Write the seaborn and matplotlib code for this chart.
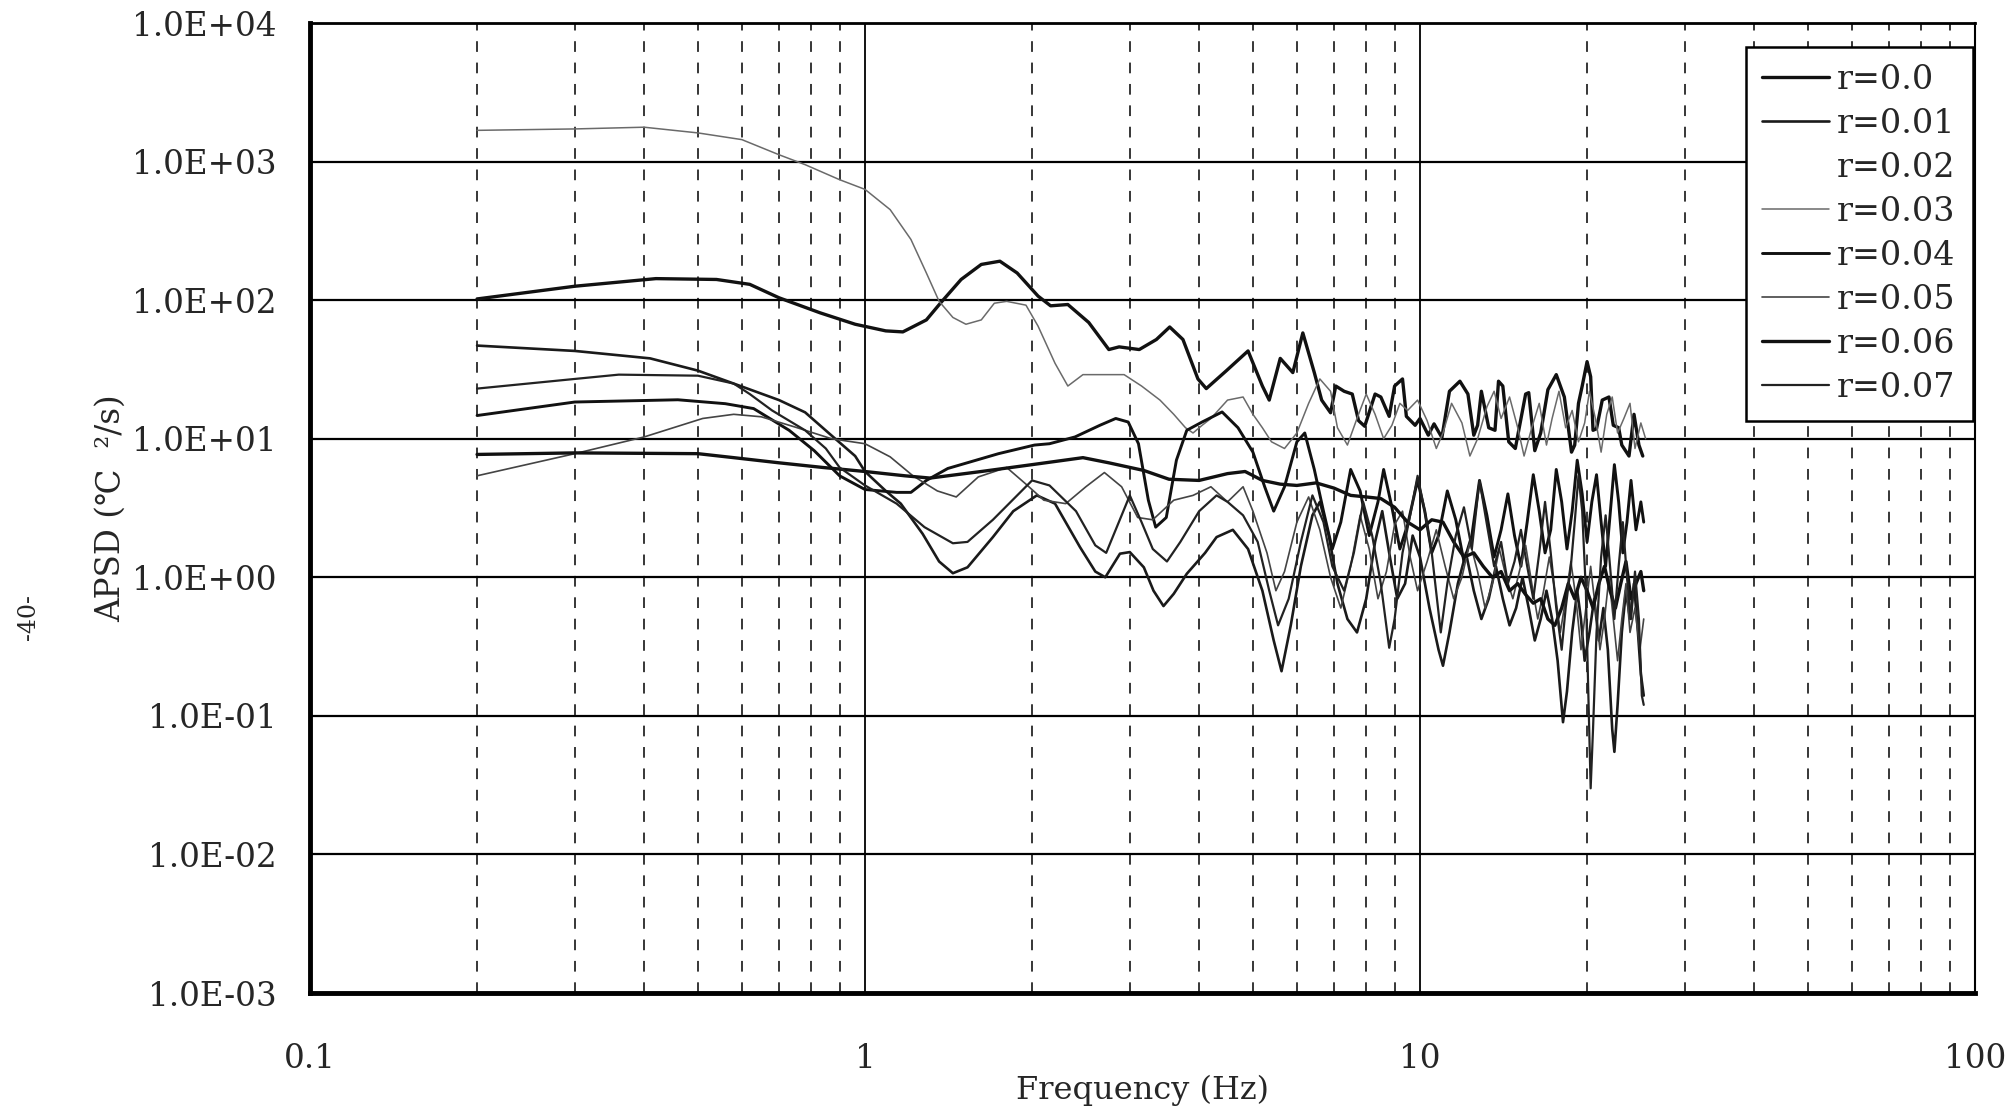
import numpy as np
import pandas as pd
import matplotlib
matplotlib.use("Agg")
import matplotlib.pyplot as plt
import seaborn as sns
from matplotlib.ticker import LogLocator, NullLocator, FixedLocator, FuncFormatter
from matplotlib.lines import Line2D

# ------------------------------------------
# DATA (frequency Hz, APSD)
# ------------------------------------------
r000 = [(0.2, 102), (0.3, 126), (0.42, 143), (0.54, 141), (0.62, 130), (0.7, 104), (0.83, 81), (0.96, 67),
        (1.09, 60), (1.17, 59), (1.29, 72), (1.37, 96), (1.49, 141), (1.62, 181), (1.75, 191), (1.88, 157),
        (2.05, 107), (2.16, 91), (2.32, 93), (2.53, 69), (2.75, 44), (2.87, 46), (3.12, 44), (3.35, 52),
        (3.54, 64), (3.74, 52), (3.98, 27), (4.12, 23), (4.48, 31), (4.9, 43), (5.2, 24), (5.35, 19),
        (5.6, 38), (5.9, 30), (6.15, 58), (6.45, 30), (6.65, 19), (6.9, 15.4), (7.05, 24), (7.3, 22),
        (7.55, 21), (7.75, 13.5), (7.95, 12.3), (8.3, 21), (8.5, 20), (8.8, 14.5), (9.0, 24), (9.3, 27),
        (9.45, 14.5), (9.8, 12.5), (10.0, 14), (10.35, 10.6), (10.6, 12.8), (10.95, 10.2), (11.3, 22),
        (11.8, 26), (12.2, 21), (12.5, 10.6), (12.7, 12.5), (12.9, 22), (13.3, 12), (13.65, 11.5),
        (13.85, 26), (14.1, 24), (14.45, 9.5), (14.85, 8.5), (15.5, 21), (15.7, 21.5), (16.1, 8.2),
        (16.5, 11), (17.0, 22.6), (17.6, 29), (18.2, 20), (18.75, 8), (19.0, 9), (19.3, 18), (19.6, 24),
        (20.0, 36), (20.3, 28), (20.5, 11.5), (20.8, 11.8), (21.3, 19), (21.9, 20), (22.3, 12.5),
        (22.8, 12), (23.1, 9), (23.8, 7.5), (24.3, 15), (24.8, 9), (25.2, 7.5)]

r001 = [(0.2, 47), (0.3, 43), (0.41, 38), (0.5, 31), (0.58, 25), (0.7, 19), (0.78, 15.5), (0.86, 11),
        (0.96, 7.5), (1.0, 5.8), (1.09, 4.2), (1.16, 3.4), (1.27, 2.06), (1.36, 1.3), (1.44, 1.07),
        (1.53, 1.18), (1.7, 1.95), (1.85, 3.0), (2.04, 3.9), (2.2, 3.4), (2.44, 1.65), (2.6, 1.1),
        (2.71, 1.0), (2.88, 1.48), (3.0, 1.52), (3.18, 1.18), (3.31, 0.8), (3.45, 0.62), (3.6, 0.76),
        (3.8, 1.06), (4.1, 1.5), (4.3, 1.95), (4.6, 2.2), (4.9, 1.6), (5.2, 0.8), (5.45, 0.35),
        (5.63, 0.21), (5.85, 0.45), (6.1, 1.2), (6.4, 2.8), (6.6, 3.5), (6.85, 2.0), (7.1, 0.9),
        (7.4, 0.5), (7.7, 0.4), (8.0, 0.7), (8.3, 1.8), (8.55, 3.0), (8.8, 1.5), (9.1, 0.7), (9.4, 0.9),
        (9.7, 2.0), (10.0, 1.4), (10.4, 0.6), (10.8, 0.3), (11.0, 0.23), (11.3, 0.4), (11.7, 0.9),
        (12.1, 1.5), (12.5, 0.8), (12.9, 0.5), (13.3, 0.7), (13.7, 1.2), (14.1, 0.7), (14.5, 0.45),
        (14.9, 0.6), (15.3, 1.0), (15.7, 0.6), (16.1, 0.35), (16.5, 0.5), (16.9, 0.8), (17.3, 0.5),
        (17.7, 0.25), (18.1, 0.09), (18.4, 0.15), (18.8, 0.4), (19.2, 0.8), (19.5, 0.5), (19.8, 0.25),
        (20.2, 0.4), (20.6, 0.7), (21.0, 0.35), (21.4, 0.6), (21.8, 0.3), (22.2, 0.08), (22.4, 0.055),
        (22.7, 0.12), (23.1, 0.4), (23.5, 0.8), (23.9, 0.5), (24.3, 0.9), (24.7, 0.4), (25.0, 0.2),
        (25.3, 0.14)]

r003 = [(0.2, 1680), (0.3, 1720), (0.4, 1770), (0.5, 1610), (0.6, 1440), (0.7, 1120), (0.78, 950),
        (0.9, 740), (1.0, 630), (1.11, 450), (1.21, 274), (1.29, 157), (1.36, 98), (1.44, 75), (1.52, 67),
        (1.62, 72), (1.71, 95), (1.8, 98), (1.95, 92), (2.05, 65), (2.2, 35), (2.32, 24), (2.47, 29),
        (2.7, 29), (2.93, 29), (3.15, 24), (3.4, 19), (3.6, 15), (3.78, 12), (3.9, 11), (4.05, 12.5),
        (4.2, 14), (4.5, 19), (4.8, 20), (5.0, 15), (5.2, 12), (5.4, 9.5), (5.7, 8.5), (6.0, 11),
        (6.3, 18), (6.6, 27), (6.9, 22), (7.1, 12), (7.4, 9), (7.7, 14), (8.0, 21), (8.3, 15), (8.6, 10),
        (8.9, 12.5), (9.2, 18), (9.5, 16), (9.9, 19), (10.3, 13.5), (10.7, 8.5), (11.0, 11), (11.4, 18),
        (11.9, 13), (12.3, 7.5), (12.7, 10), (13.2, 17), (13.6, 22), (14.0, 14), (14.5, 20), (15.0, 12),
        (15.4, 7.5), (15.9, 12), (16.4, 18), (16.9, 9), (17.3, 14), (17.8, 22), (18.3, 12), (18.8, 16),
        (19.3, 9.5), (19.8, 13), (20.2, 22), (20.7, 14), (21.2, 8), (21.7, 15), (22.2, 20), (22.7, 11),
        (23.3, 14), (23.9, 18), (24.4, 8.5), (25.0, 13), (25.5, 10)]

r004 = [(0.2, 14.7), (0.3, 18.4), (0.46, 19.1), (0.56, 17.9), (0.63, 16.5), (0.73, 11.5), (0.81, 8.2),
        (0.9, 5.4), (1.0, 4.3), (1.14, 4.1), (1.21, 4.1), (1.29, 5.0), (1.41, 6.1), (1.74, 7.8),
        (2.02, 9.0), (2.15, 9.2), (2.39, 10.3), (2.65, 12.5), (2.83, 14.0), (2.98, 13.2), (3.11, 9.2),
        (3.24, 3.6), (3.34, 2.3), (3.49, 2.7), (3.64, 7.0), (3.8, 11.5), (4.05, 13.2), (4.4, 15.6),
        (4.7, 12), (5.0, 8), (5.25, 4.5), (5.45, 3.0), (5.7, 4.5), (6.0, 9.5), (6.2, 11), (6.45, 6),
        (6.7, 3.0), (6.95, 1.6), (7.2, 2.5), (7.5, 6.0), (7.8, 4.2), (8.1, 2.0), (8.4, 3.5), (8.6, 6.0),
        (8.9, 3.2), (9.2, 1.6), (9.5, 2.4), (9.9, 5.0), (10.2, 3.0), (10.5, 1.5), (10.8, 2.0), (11.2, 4.2),
        (11.6, 2.6), (12.0, 1.3), (12.4, 2.0), (12.8, 5.0), (13.2, 2.8), (13.6, 1.4), (14.0, 2.2),
        (14.4, 4.0), (14.8, 2.0), (15.2, 1.2), (15.6, 2.5), (16.0, 5.5), (16.4, 3.0), (16.8, 1.5),
        (17.2, 2.2), (17.6, 6.0), (18.0, 3.5), (18.4, 1.6), (18.8, 3.0), (19.2, 7.0), (19.6, 4.0),
        (20.0, 1.8), (20.4, 3.5), (20.8, 5.5), (21.2, 2.5), (21.6, 1.2), (22.0, 2.8), (22.4, 6.5),
        (22.8, 3.5), (23.2, 1.5), (23.6, 2.5), (24.0, 5.0), (24.5, 2.2), (25.0, 3.5), (25.3, 2.5)]

r005 = [(0.2, 5.4), (0.3, 7.8), (0.4, 10.3), (0.51, 14.0), (0.58, 15), (0.65, 14.4), (0.75, 12.1),
        (0.87, 10), (1.0, 9.2), (1.11, 7.4), (1.22, 5.4), (1.35, 4.2), (1.46, 3.8), (1.6, 5.3), (1.8, 6.2),
        (1.95, 4.7), (2.1, 3.6), (2.3, 3.4), (2.5, 4.5), (2.7, 5.7), (2.9, 4.5), (3.1, 2.7), (3.3, 2.6),
        (3.6, 3.6), (3.9, 3.9), (4.2, 4.5), (4.5, 3.5), (4.8, 4.5), (5.0, 3.0), (5.3, 1.5), (5.5, 0.8),
        (5.7, 1.1), (6.0, 2.5), (6.3, 3.8), (6.6, 2.2), (6.9, 1.0), (7.2, 0.6), (7.5, 1.2), (7.8, 2.8),
        (8.1, 1.6), (8.4, 0.7), (8.7, 1.1), (9.0, 2.4), (9.3, 3.0), (9.6, 1.4), (9.9, 0.8), (10.3, 1.3),
        (10.7, 2.2), (11.1, 1.2), (11.5, 0.7), (11.9, 1.0), (12.3, 1.8), (12.7, 1.1), (13.1, 0.6),
        (13.5, 0.9), (13.9, 1.6), (14.3, 1.0), (14.7, 0.7), (15.1, 1.1), (15.5, 1.7), (15.9, 0.9),
        (16.3, 0.5), (16.7, 0.8), (17.1, 1.4), (17.5, 0.8), (17.9, 0.4), (18.3, 0.7), (18.7, 1.3),
        (19.1, 0.7), (19.5, 0.3), (19.9, 0.6), (20.3, 1.2), (20.7, 0.6), (21.1, 0.3), (21.5, 0.5),
        (21.9, 1.0), (22.3, 0.5), (22.7, 0.25), (23.1, 0.5), (23.5, 0.9), (23.9, 0.4), (24.4, 0.6),
        (24.9, 0.3), (25.3, 0.5)]

r006 = [(0.2, 7.7), (0.3, 7.9), (0.5, 7.8), (0.58, 7.3), (0.7, 6.7), (0.84, 6.2), (1.0, 5.8), (1.18, 5.4),
        (1.31, 5.2), (1.62, 5.8), (2.0, 6.5), (2.47, 7.3), (2.75, 6.7), (3.18, 5.9), (3.53, 5.1), (4.0, 5.0),
        (4.5, 5.6), (4.84, 5.8), (5.2, 5.0), (5.6, 4.7), (6.0, 4.6), (6.5, 4.8), (7.0, 4.4), (7.5, 3.9),
        (8.0, 3.8), (8.5, 3.7), (9.0, 3.2), (9.5, 2.5), (10.0, 2.2), (10.5, 2.6), (11.0, 2.5), (11.5, 1.8),
        (12.0, 1.4), (12.5, 1.5), (13.0, 1.2), (13.5, 1.0), (14.0, 1.1), (14.5, 0.8), (15.0, 0.9),
        (15.5, 0.75), (16.0, 0.65), (16.5, 0.7), (17.0, 0.5), (17.5, 0.45), (18.0, 0.6), (18.5, 0.9),
        (19.0, 0.7), (19.5, 1.0), (20.0, 0.8), (20.5, 0.6), (21.0, 0.9), (21.5, 1.2), (22.0, 0.8),
        (22.5, 0.6), (23.0, 0.9), (23.5, 1.3), (24.0, 0.7), (24.5, 0.9), (25.0, 1.1), (25.3, 0.8)]

r007 = [(0.2, 23), (0.3, 27), (0.36, 29), (0.5, 28.5), (0.58, 25), (0.62, 21), (0.68, 16), (0.78, 11.5),
        (0.85, 8.5), (0.9, 6.2), (1.0, 4.6), (1.14, 3.4), (1.28, 2.3), (1.44, 1.76), (1.53, 1.8), (1.7, 2.6),
        (2.0, 5.0), (2.15, 4.6), (2.4, 3.0), (2.6, 1.7), (2.72, 1.5), (2.9, 2.8), (3.0, 3.9), (3.15, 2.5),
        (3.3, 1.6), (3.5, 1.3), (3.7, 1.8), (4.0, 3.0), (4.3, 3.9), (4.5, 3.5), (4.8, 2.8), (5.1, 1.8),
        (5.35, 0.8), (5.55, 0.45), (5.8, 0.7), (6.1, 1.8), (6.4, 3.9), (6.7, 2.5), (6.95, 1.2), (7.3, 0.8),
        (7.6, 1.5), (7.9, 3.5), (8.2, 2.0), (8.5, 0.9), (8.8, 0.31), (9.0, 0.5), (9.3, 1.5), (9.6, 2.8),
        (9.9, 5.4), (10.2, 3.0), (10.5, 1.5), (10.9, 0.4), (11.2, 0.9), (11.6, 2.0), (12.0, 3.2),
        (12.4, 1.6), (12.8, 5.0), (13.2, 2.4), (13.6, 1.2), (14.0, 1.8), (14.4, 0.9), (14.8, 1.3),
        (15.2, 2.2), (15.6, 1.2), (16.0, 0.7), (16.4, 1.5), (16.8, 3.5), (17.2, 1.5), (17.6, 0.6),
        (18.0, 0.3), (18.3, 0.6), (18.7, 1.2), (19.0, 2.5), (19.3, 5.4), (19.6, 3.0), (19.9, 0.8),
        (20.1, 0.15), (20.3, 0.03), (20.5, 0.08), (20.8, 0.4), (21.2, 1.4), (21.6, 2.8), (22.0, 1.2),
        (22.4, 0.5), (22.8, 1.2), (23.2, 2.5), (23.6, 1.0), (24.0, 0.5), (24.4, 1.1), (24.8, 0.5),
        (25.1, 0.14), (25.3, 0.12)]

labels = ["r=0.0", "r=0.01", "r=0.02", "r=0.03", "r=0.04", "r=0.05", "r=0.06", "r=0.07"]
y_ticks = [1e-3, 1e-2, 1e-1, 1e0, 1e1, 1e2, 1e3, 1e4]
x_ticks = [0.1, 1, 10, 100]

# ------------------------------------------
# STYLE
# ------------------------------------------
sns.set_style("white")
plt.rcParams["font.family"] = ["DejaVu Serif", "DejaVu Sans"]

fig = plt.figure(figsize=(20.14, 11.09), dpi=100)
ax = fig.add_axes([310 / 2014, 1 - 993 / 1109, 1665 / 2014, 970 / 1109])

# line look for each series (r=0.02 has no visible trace in the original)
series = [
    (r000, labels[0], "#111111", 2.4),
    (r001, labels[1], "#1a1a1a", 1.9),
    (None, labels[2], "white", 1.0),
    (r003, labels[3], "#6a6a6a", 1.1),
    (r004, labels[4], "#111111", 2.1),
    (r005, labels[5], "#444444", 1.2),
    (r006, labels[6], "#111111", 2.4),
    (r007, labels[7], "#222222", 1.6),
]

handles = []
for data, lab, col, lw in series:
    if data is not None:
        df = pd.DataFrame(data, columns=["freq", "apsd"])
        sns.lineplot(data=df, x="freq", y="apsd", ax=ax, color=col, lw=lw,
                     estimator=None, sort=False, legend=False)
    handles.append(Line2D([0], [0], color=col, lw=lw, label=lab))

ax.set_xscale("log")
ax.set_yscale("log")
ax.set_xlim(0.1, 100)
ax.set_ylim(1e-3, 1e4)

ax.xaxis.set_major_locator(FixedLocator(x_ticks))
ax.xaxis.set_minor_locator(LogLocator(base=10, subs=np.arange(2, 10)))
ax.xaxis.set_major_formatter(FuncFormatter(lambda v, p: f"{v:g}"))
ax.xaxis.set_minor_formatter(FuncFormatter(lambda v, p: ""))
ax.yaxis.set_major_locator(FixedLocator(y_ticks))
ax.yaxis.set_minor_locator(NullLocator())
ax.yaxis.set_major_formatter(FuncFormatter(lambda v, p: f"{v:.1E}"))

# grid like the original: solid decades, dashed minor verticals
ax.yaxis.grid(True, which="major", color="black", lw=1.6)
ax.xaxis.grid(True, which="major", color="black", lw=1.3)
ax.xaxis.grid(True, which="minor", color="black", lw=1.1, linestyle=(0, (7, 7)))
ax.set_axisbelow(True)

ax.tick_params(axis="both", which="both", length=0)
ax.tick_params(axis="y", labelsize=23.5, pad=24)
ax.tick_params(axis="x", labelsize=23.5, pad=36)

for side, w in [("left", 3.5), ("bottom", 3.5), ("top", 2.0), ("right", 1.5)]:
    ax.spines[side].set_visible(True)
    ax.spines[side].set_color("black")
    ax.spines[side].set_linewidth(w)

ax.set_xlabel("Frequency (Hz)", fontsize=23, labelpad=0)
ax.set_ylabel("APSD (\u2103  \u00b2/s)", fontsize=23.5, labelpad=4)

leg = ax.legend(handles=handles, loc="upper right", bbox_to_anchor=(0.9985, 0.975),
                borderaxespad=0, fontsize=24, frameon=True, fancybox=False, framealpha=1,
                edgecolor="black", labelspacing=0.36, handlelength=2.0,
                handletextpad=0.25, borderpad=0.5)
leg.get_frame().set_linewidth(1.8)

# page number of the scanned report
fig.text(0.014, 0.444, "-40-", rotation=90, fontsize=17, ha="center", va="center")

fig.savefig("out.png", dpi=100)
